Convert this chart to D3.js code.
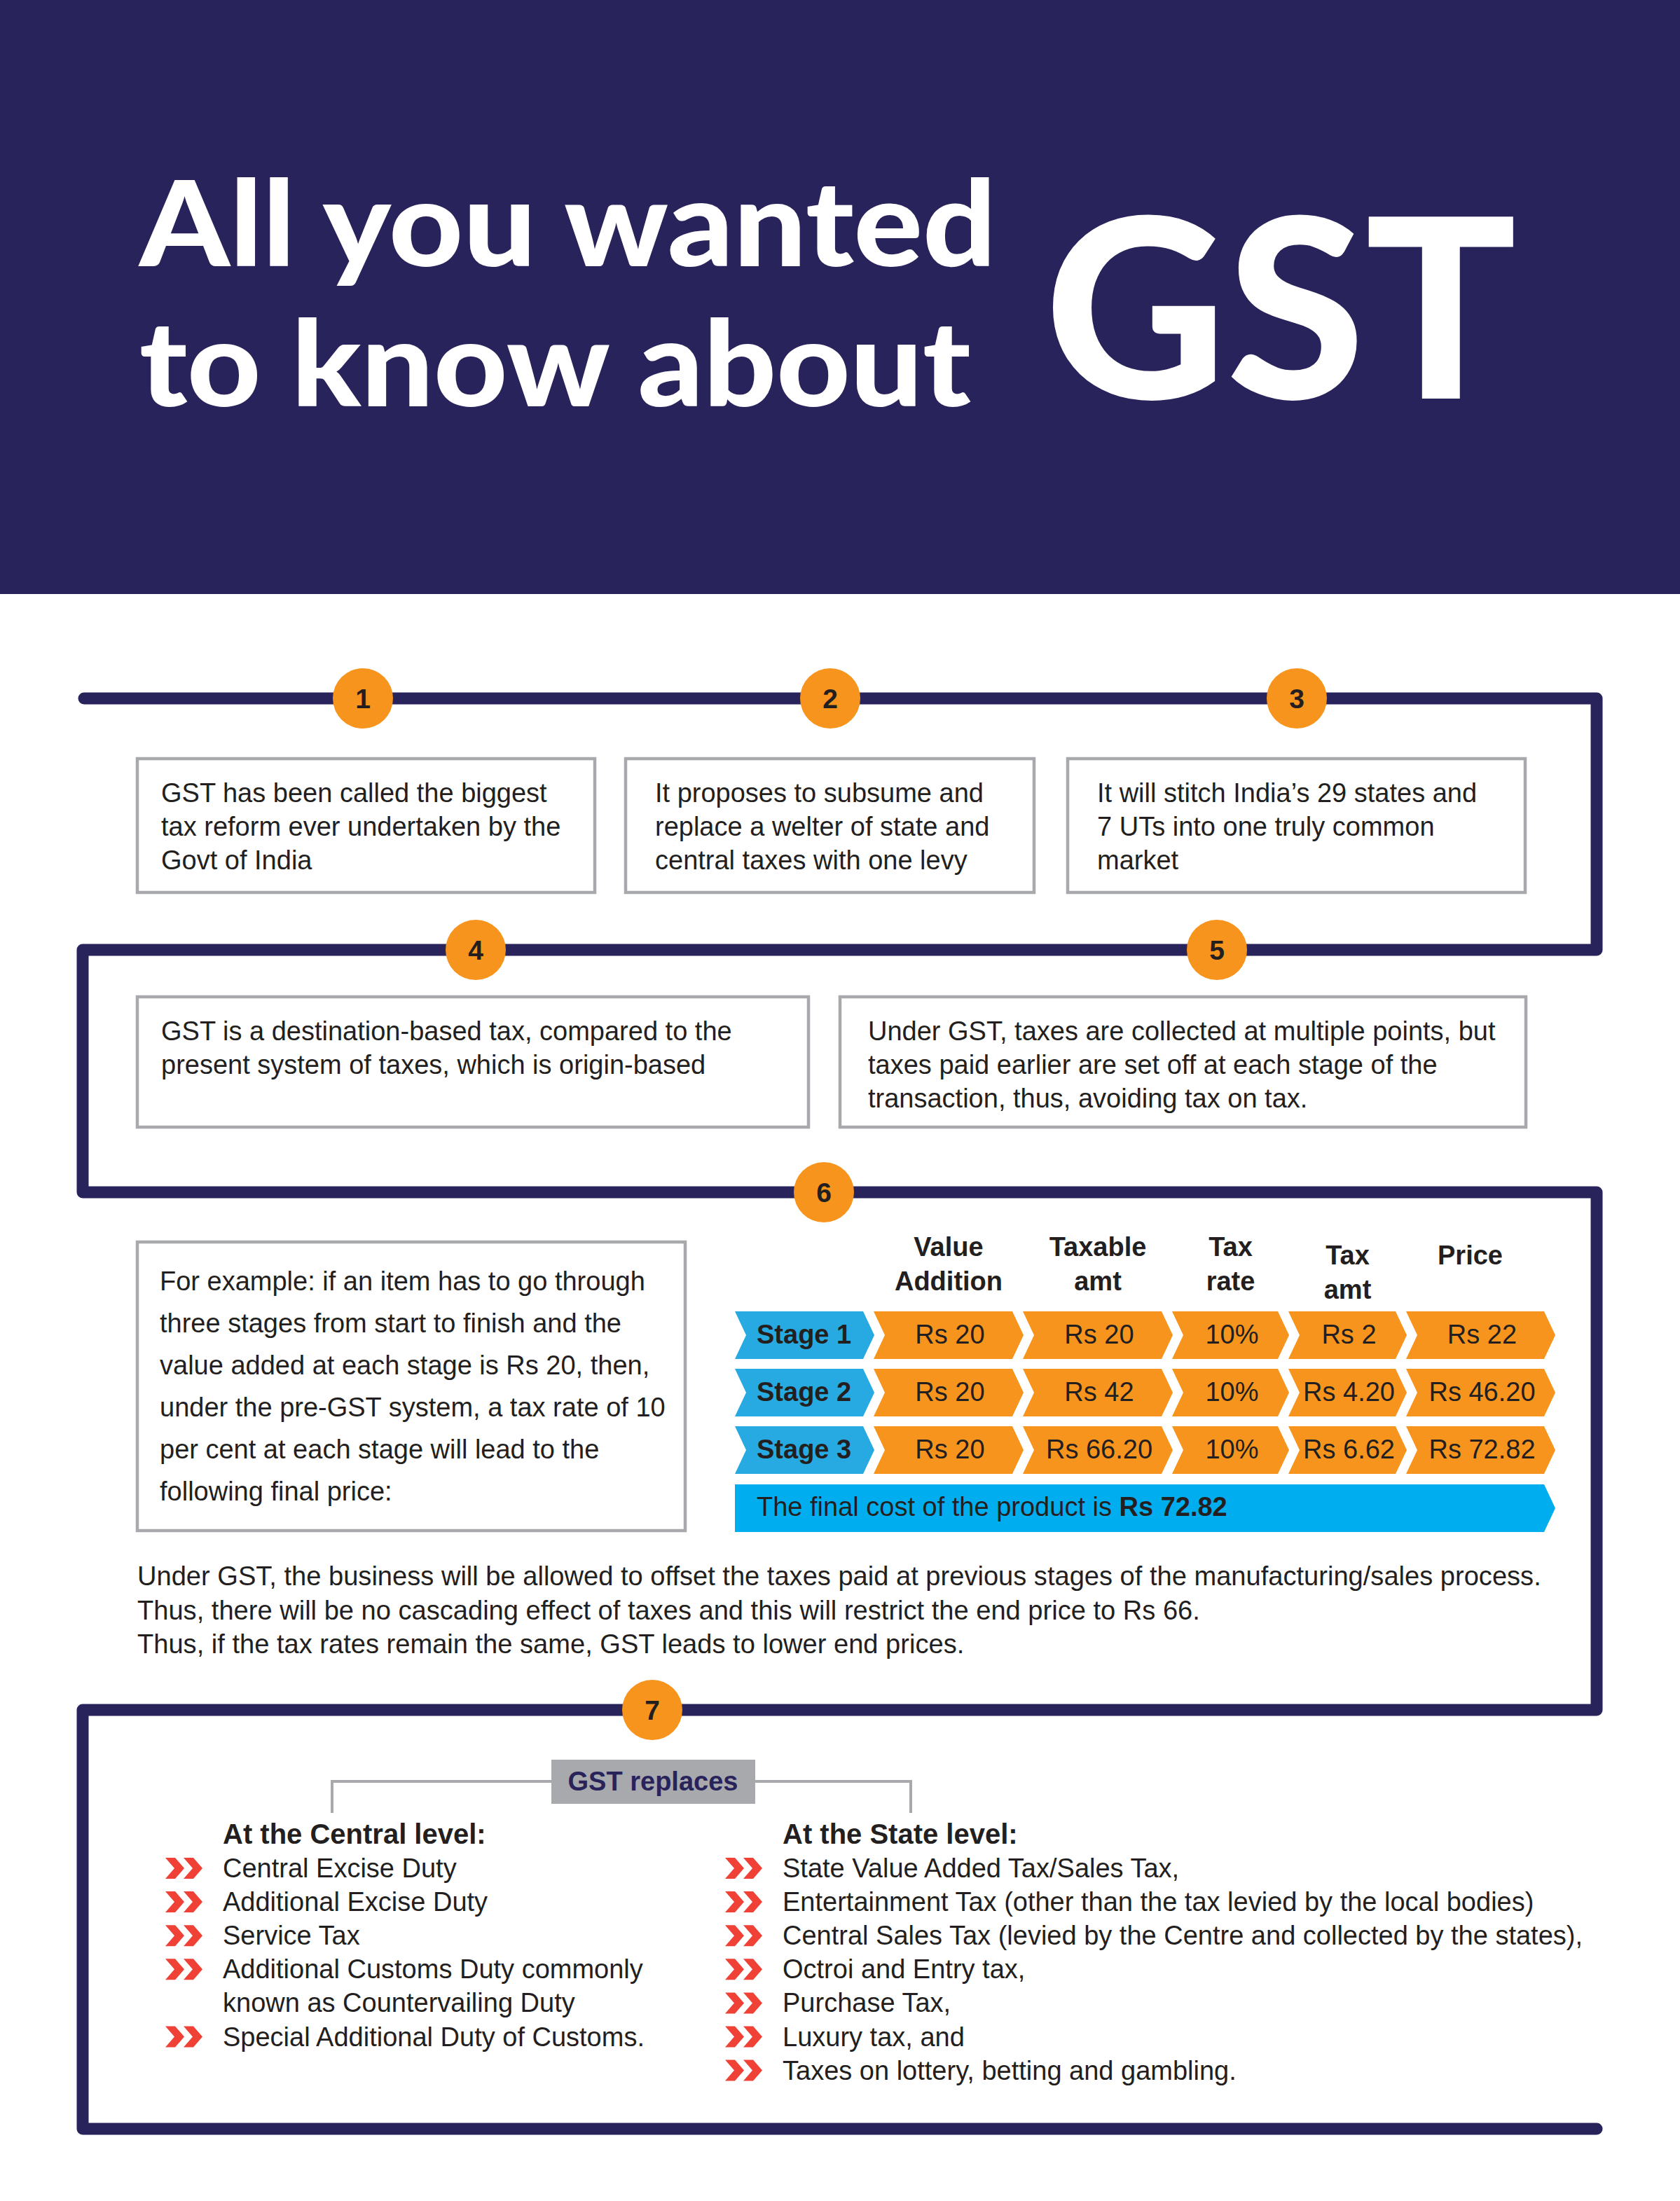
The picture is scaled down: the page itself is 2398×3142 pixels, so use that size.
<!DOCTYPE html>
<html><head><meta charset="utf-8">
<script src="https://cdn.jsdelivr.net/npm/d3@7"></script>
<style>html,body{margin:0;padding:0;background:#fff}svg{display:block}</style>
</head><body>
<script>
// ---------- DATA ----------
const titleLines = ["All you wanted", "to know about"];
const titleBig = "GST";
const pointNumbers = ["1","2","3","4","5","6","7"];
const pointTexts = [
  ["GST has been called the biggest","tax reform ever undertaken by the","Govt of India"],
  ["It proposes to subsume and","replace a welter of state and","central taxes with one levy"],
  ["It will stitch India\u2019s 29 states and","7 UTs into one truly common","market"],
  ["GST is a destination-based tax, compared to the","present system of taxes, which is origin-based"],
  ["Under GST, taxes are collected at multiple points, but","taxes paid earlier are set off at each stage of the","transaction, thus, avoiding tax on tax."]
];
const exampleText = ["For example: if an item has to go through","three stages from start to finish and the","value added at each stage is Rs 20, then,","under the pre-GST system, a tax rate of 10","per cent at each stage will lead to the","following final price:"];
const columnHeaders = [["Value","Addition"],["Taxable","amt"],["Tax","rate"],["Tax","amt"],["Price"]];
const stages = ["Stage 1","Stage 2","Stage 3"];
const valueAddition = [20, 20, 20];
const taxableAmt = [20, 42, 66.20];
const taxRate = [10, 10, 10];
const taxAmt = [2, 4.20, 6.62];
const price = [22, 46.20, 72.82];
const finalCostLabel = "The final cost of the product is ";
const finalCost = 72.82;
const gstParagraph = ["Under GST, the business will be allowed to offset the taxes paid at previous stages of the manufacturing/sales process.","Thus, there will be no cascading effect of taxes and this will restrict the end price to Rs 66.","Thus, if the tax rates remain the same, GST leads to lower end prices."];
const replacesLabel = "GST replaces";
const centralHeading = "At the Central level:";
const centralItems = [["Central Excise Duty"],["Additional Excise Duty"],["Service Tax"],["Additional Customs Duty commonly","known as Countervailing Duty"],["Special Additional Duty of Customs."]];
const stateHeading = "At the State level:";
const stateItems = [["State Value Added Tax/Sales Tax,"],["Entertainment Tax (other than the tax levied by the local bodies)"],["Central Sales Tax (levied by the Centre and collected by the states),"],["Octroi and Entry tax,"],["Purchase Tax,"],["Luxury tax, and"],["Taxes on lottery, betting and gambling."]];

// ---------- STYLE / LAYOUT ----------
const W = 2398, H = 3142;
const NAVY = "#29235c", ORANGE = "#f7941d", BLUE = "#27aae1", FINAL = "#00aeef",
      GRAY = "#a7a9ac", RED = "#ef4136", INK = "#231f20";
const FONT = "'Liberation Sans', Arial, Helvetica, sans-serif";
const BODY = 38;

const svg = d3.select("body").append("svg").attr("width", W).attr("height", H)
  .style("font-family", FONT);
svg.append("rect").attr("width", W).attr("height", H).attr("fill", "#fff");

// header
svg.append("rect").attr("x", 0).attr("y", 0).attr("width", W).attr("height", 848).attr("fill", NAVY);
const tFont = "Lato, 'Open Sans', sans-serif";
svg.selectAll("text.title").data(titleLines).join("text").attr("class","title")
  .attr("x", 199).attr("y", (d,i) => 380 + i*200)
  .attr("font-family", tFont).attr("font-weight", 900).attr("font-size", 170)
  .attr("fill", "#fff").attr("textLength", (d,i) => [1223, 1187][i]).attr("lengthAdjust", "spacingAndGlyphs")
  .text(d => d);
svg.append("text").attr("x", 1491).attr("y", 569)
  .attr("font-family", tFont).attr("font-weight", 900).attr("font-size", 358)
  .attr("fill", "#fff").attr("textLength", 674).attr("lengthAdjust", "spacingAndGlyphs")
  .text(titleBig);

// snake path
const pathPts = [[120,997],[2279,997],[2279,1356],[118,1356],[118,1702],[2279,1702],[2279,2441],[118,2441],[118,3039],[2279,3039]];
svg.append("path").attr("d", d3.line()(pathPts)).attr("fill","none").attr("stroke", NAVY)
  .attr("stroke-width", 17).attr("stroke-linejoin","round").attr("stroke-linecap","round");

// text boxes
const boxes = [
  {x:196,y:1083,w:653,h:191,tx:230},
  {x:893,y:1083,w:583,h:191,tx:935},
  {x:1524,y:1083,w:653,h:191,tx:1566},
  {x:196,y:1423,w:958,h:186,tx:230},
  {x:1199,y:1423,w:979,h:186,tx:1239}
];
boxes.forEach((b,i) => {
  svg.append("rect").attr("x", b.x).attr("y", b.y).attr("width", b.w).attr("height", b.h)
    .attr("fill","#fff").attr("stroke", GRAY).attr("stroke-width", 4.5);
  svg.append("g").selectAll("text").data(pointTexts[i]).join("text")
    .attr("x", b.tx).attr("y", (d,j) => b.y + 62 + j*48)
    .attr("font-size", BODY).attr("fill", INK).text(d => d);
});

// example box
svg.append("rect").attr("x",196).attr("y",1773).attr("width",782).attr("height",412)
  .attr("fill","#fff").attr("stroke",GRAY).attr("stroke-width",4.5);
svg.append("g").selectAll("text").data(exampleText).join("text")
  .attr("x",228).attr("y",(d,j)=>1842 + j*60).attr("font-size",BODY).attr("fill",INK).text(d=>d);

// ---------- TABLE ----------
const chevron = (L, R, y0, y1, d, notch) => {
  const ym = (y0+y1)/2;
  return `M${L},${y0}L${R-d},${y0}L${R},${ym}L${R-d},${y1}L${L},${y1}` + (notch ? `L${L+d},${ym}` : "") + "Z";
};
const y = d3.scaleBand().domain(stages).range([1872, 2104]).paddingInner(14/82).paddingOuter(0);
const tips = [1248, 1461, 1674, 1840, 2008, 2220];
const tableLeft = 1049, D = 16;
const colL = i => i === 0 ? tableLeft : tips[i-1] - 1;
const fmtRs = v => "Rs " + (Number.isInteger(v) ? v : v.toFixed(2));
const columns = [
  {vals: valueAddition, f: fmtRs},
  {vals: taxableAmt, f: fmtRs},
  {vals: taxRate, f: v => v + "%"},
  {vals: taxAmt, f: fmtRs},
  {vals: price, f: fmtRs}
];
const headerTop = [1793,1793,1793,1805,1805];
const headerDx = [0,0,0,0,-15];
columnHeaders.forEach((lines, c) => {
  const cx = (colL(c+1) + tips[c+1]) / 2 + headerDx[c];
  svg.append("g").selectAll("text").data(lines).join("text")
    .attr("x", cx).attr("y", (d,j) => headerTop[c] + j*49)
    .attr("text-anchor","middle").attr("font-size",38).attr("font-weight","bold").attr("fill",INK)
    .text(d=>d);
});
stages.forEach((s, r) => {
  const y0 = y(s), y1 = y0 + y.bandwidth();
  svg.append("path").attr("d", chevron(colL(0), tips[0], y0, y1, D, true)).attr("fill", BLUE);
  svg.append("text").attr("x", 1080).attr("y", y0 + 46).attr("font-size",38).attr("font-weight","bold")
    .attr("fill", INK).text(s);
  columns.forEach((col, c) => {
    const L = colL(c+1), R = tips[c+1];
    svg.append("path").attr("d", chevron(L, R, y0, y1, D, true)).attr("fill", ORANGE);
    svg.append("text").attr("x", (L+R)/2 + 2).attr("y", y0 + 46).attr("text-anchor","middle")
      .attr("font-size",38).attr("fill",INK).text(col.f(col.vals[r]));
  });
});
svg.append("path").attr("d", chevron(tableLeft, tips[5], 2119, 2187, D, false)).attr("fill", FINAL);
const ft = svg.append("text").attr("x",1080).attr("y",2164).attr("font-size",38).attr("fill",INK);
ft.append("tspan").text(finalCostLabel);
ft.append("tspan").attr("font-weight","bold").text("Rs " + finalCost.toFixed(2));

svg.append("g").selectAll("text").data(gstParagraph).join("text")
  .attr("x",196).attr("y",(d,j)=>2263 + j*48.5).attr("font-size",38.1).attr("fill",INK).text(d=>d);

// ---------- SECTION 7 ----------
svg.append("path").attr("d","M474,2588L474,2543L790,2543M1076,2543L1300,2543L1300,2588")
  .attr("fill","none").attr("stroke",GRAY).attr("stroke-width",4);
svg.append("rect").attr("x",787).attr("y",2512).attr("width",291).attr("height",63).attr("fill",GRAY);
svg.append("text").attr("x",932).attr("y",2556).attr("text-anchor","middle").attr("font-size",38)
  .attr("font-weight","bold").attr("fill",NAVY).text(replacesLabel);

function bullet(g, x, base) {
  const top = base - 28, h = 30, ym = top + h/2;
  [0, 26].forEach(off => {
    const x0 = x + off;
    g.append("path").attr("d", `M${x0},${top}L${x0+14},${top}L${x0+27},${ym}L${x0+14},${top+h}L${x0},${top+h}L${x0+13},${ym}Z`)
      .attr("fill", RED);
  });
}
function list(heading, items, tx, bx) {
  const g = svg.append("g");
  g.append("text").attr("x",tx).attr("y",2632).attr("font-size",40).attr("font-weight","bold").attr("fill",INK).text(heading);
  let line = 0;
  items.forEach(item => {
    bullet(g, bx, 2680 + line*48.1);
    item.forEach(t => {
      g.append("text").attr("x",tx).attr("y",2680 + line*48.1).attr("font-size",BODY).attr("fill",INK).text(t);
      line++;
    });
  });
}
list(centralHeading, centralItems, 318, 236);
list(stateHeading, stateItems, 1117, 1035);

// numbered circles
const circlePos = [[518,997],[1185,997],[1851,997],[679,1356],[1737,1356],[1176,1702],[931,2441]];
const cg = svg.append("g").selectAll("g").data(pointNumbers).join("g")
  .attr("transform",(d,i)=>`translate(${circlePos[i][0]},${circlePos[i][1]})`);
cg.append("circle").attr("r",43).attr("fill",ORANGE);
cg.append("text").attr("y",14).attr("text-anchor","middle").attr("font-size",39).attr("font-weight","bold")
  .attr("fill",INK).text(d=>d);
</script>
</body></html>
